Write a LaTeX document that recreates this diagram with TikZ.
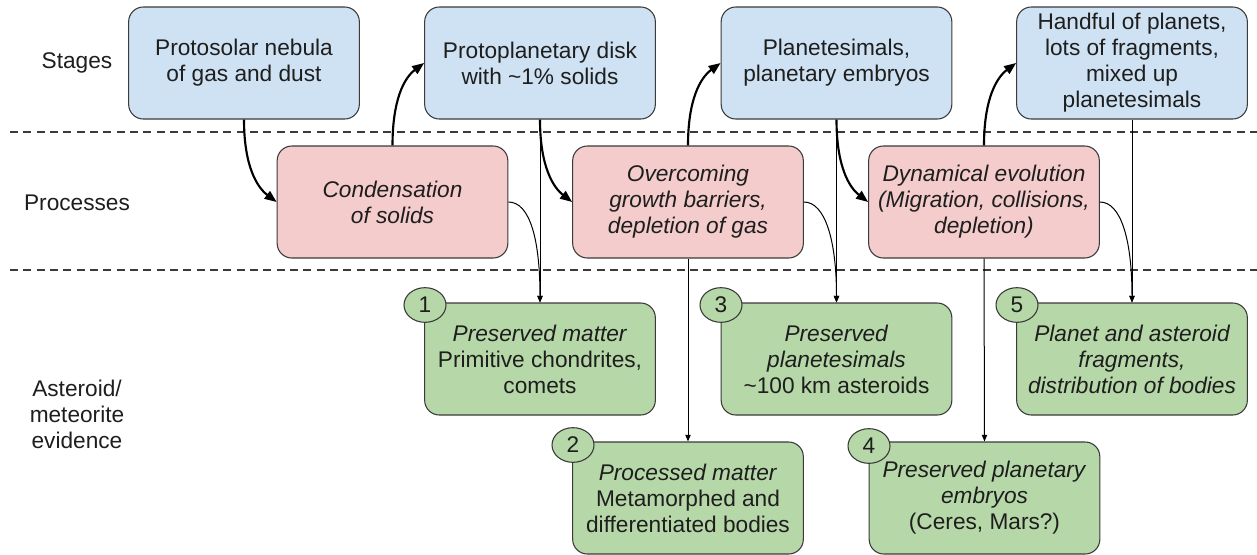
\documentclass[tikz,border=0pt]{standalone}
\usepackage{fontspec}
\setmainfont{Liberation Sans}
\usetikzlibrary{arrows.meta,shapes.geometric}
\definecolor{bluef}{HTML}{CFE2F3}
\definecolor{redf}{HTML}{F4CCCC}
\definecolor{greenf}{HTML}{B6D7A8}
\definecolor{edge}{HTML}{3A3A3A}
\definecolor{txt}{HTML}{1E1E1E}
\begin{document}
\begin{tikzpicture}[x=0.75pt,y=-0.75pt,
  box/.style={draw=edge, line width=0.8pt, rounded corners=11pt, minimum width=173pt, minimum height=84pt, align=center, inner sep=2pt, text=txt, font=\fontsize{17}{19.5}\selectfont},
  stage/.style={box, fill=bluef},
  proc/.style={box, fill=redf, font=\fontsize{17}{19.5}\selectfont\itshape},
  evid/.style={box, fill=greenf},
  num/.style={ellipse, draw=edge, line width=0.8pt, fill=greenf, minimum width=31.5pt, minimum height=26pt, inner sep=0pt, text=txt, font=\fontsize{17}{19.5}\selectfont},
  rowlabel/.style={align=center, text=txt, font=\fontsize{17}{19.5}\selectfont},
  sep/.style={draw=edge, line width=0.8pt, dash pattern=on 6pt off 4pt},
  thick/.style={line width=1.6pt, -{Triangle[length=9pt,width=7pt]}},
  thin/.style={line width=0.75pt, -{Triangle[length=5pt,width=4pt]}}
]
\useasboundingbox (0,0) rectangle (1257,554);

% separators
\coordinate (s1a) at (10,132); \coordinate (s1b) at (1257,132);
\coordinate (s2a) at (10,270); \coordinate (s2b) at (1257,270);
\draw[sep] (s1a) -- (s1b);
\draw[sep] (s2a) -- (s2b);

% row labels
\node[rowlabel] (lstages) at (77,63) {Stages};
\node[rowlabel] (lproc) at (77,203) {Processes};
\node[rowlabel] (levid) at (77,414) {Asteroid/\\meteorite\\evidence};

% stages
\node[stage] (B1) at (244,63) {Protosolar nebula\\of gas and dust};
\node[stage] (B2) at (540,63) {Protoplanetary disk\\with \textasciitilde1\% solids};
\node[stage] (B3) at (836.5,63) {Planetesimals,\\planetary embryos};
\node[stage] (B4) at (1132,63) {Handful of planets,\\lots of fragments,\\mixed up\\planetesimals};

% processes
\node[proc] (R1) at (392.5,202) {Condensation\\of solids};
\node[proc] (R2) at (688,202) {Overcoming\\growth barriers,\\depletion of gas};
\node[proc] (R3) at (984,202) {Dynamical evolution\\(Migration, collisions,\\depletion)};

% evidence
\node[evid] (G1) at (540,359) {\textit{Preserved matter}\\Primitive chondrites,\\comets};
\node[evid] (G2) at (688,498) {\textit{Processed matter}\\Metamorphed and\\differentiated bodies};
\node[evid] (G3) at (836.5,359) {\textit{Preserved}\\\textit{planetesimals}\\\textasciitilde100 km asteroids};
\node[evid] (G4) at (984.5,498) {\textit{Preserved planetary}\\\textit{embryos}\\(Ceres, Mars?)};
\node[evid, font=\fontsize{17}{19.5}\selectfont\itshape] (G5) at (1132,359) {Planet and asteroid\\fragments,\\distribution of bodies};

% numbers
\node[num] (n1) at (425,305) {1};
\node[num] (n2) at (573,445) {2};
\node[num] (n3) at (721,305) {3};
\node[num] (n4) at (869,446) {4};
\node[num] (n5) at (1017,305) {5};

% thick process flow
\draw[thick] (B1.south) .. controls (244,168) and (258,188) .. (R1.west);
\draw[thick] (R1.north) .. controls (392.5,100) and (404,78) .. (B2.west);
\draw[thick] (B2.south) .. controls (540,168) and (554,188) .. (R2.west);
\draw[thick] (R2.north) .. controls (688,100) and (700,78) .. (B3.west);
\draw[thick] (B3.south) .. controls (836.5,168) and (850,188) .. (R3.west);
\draw[thick] (R3.north) .. controls (984,100) and (996,78) .. (B4.west);

% thin evidence links
\draw[thin] (B2.south) -- (G1.north);
\draw[thin] (R1.east) .. controls (530,202) and (540,240) .. (G1.north);
\draw[thin] (R2.south) -- (G2.north);
\draw[thin] (B3.south) -- (G3.north);
\draw[thin] (R2.east) .. controls (825,202) and (836.5,240) .. (G3.north);
\draw[thin] (R3.south) -- (G4.north);
\draw[thin] (B4.south) -- (G5.north);
\draw[thin] (R3.east) .. controls (1121,202) and (1132,240) .. (G5.north);
\end{tikzpicture}
\end{document}
